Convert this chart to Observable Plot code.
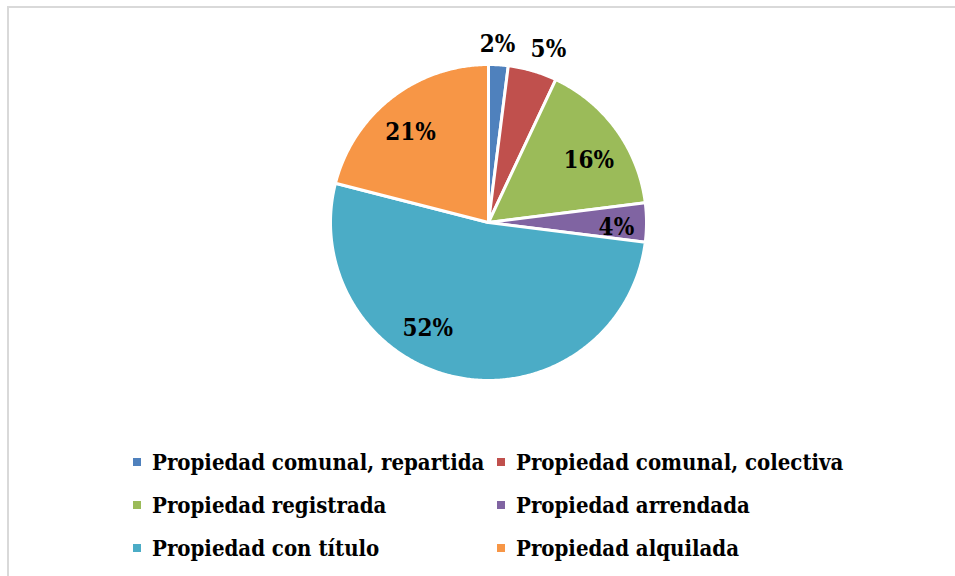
<!DOCTYPE html>
<html>
<head>
<meta charset="utf-8">
<script src="https://cdn.jsdelivr.net/npm/d3@7"></script>
<script src="https://cdn.jsdelivr.net/npm/@observablehq/plot@0.6"></script>
<style>
  html, body { margin: 0; padding: 0; background: #fff; }
  #wrap { position: relative; width: 955px; height: 576px; overflow: hidden; background: #fff; }
  #frame { position: absolute; left: 7px; top: 6px; width: 1000px; height: 700px;
           border-left: 2px solid #d9d9d9; border-top: 2px solid #d9d9d9; box-sizing: border-box; }
  #chart { position: absolute; left: 0; top: 0; }
  #legend { position: absolute; left: 0; top: 440px; width: 955px;
            font-family: "DejaVu Serif Condensed", "DejaVu Serif", serif; font-weight: bold;
            font-size: 22px; color: #000; }
  .item { position: absolute; height: 43px; display: flex; align-items: center; white-space: nowrap; }
  .sw { width: 8px; height: 8px; margin-right: 11px; flex: none; }
</style>
</head>
<body>
<div id="wrap">
  <div id="frame"></div>
  <div id="chart"></div>
  <div id="legend"></div>
</div>
<script>
// ---- data ----
const categories = [
  "Propiedad comunal, repartida",
  "Propiedad comunal, colectiva",
  "Propiedad registrada",
  "Propiedad arrendada",
  "Propiedad con título",
  "Propiedad alquilada"
];
const values = [2, 5, 16, 4, 52, 21];
const labels = ["2%", "5%", "16%", "4%", "52%", "21%"];
const colors = ["#4F81BD", "#C0504D", "#9BBB59", "#8064A2", "#4BACC6", "#F79646"];

// ---- layout (label placement relative to the slice middle) ----
const labelLayout = [
  {r: 1.127, da: -0.7},
  {r: 1.158, da: 2.9},
  {r: 0.747, da: 4.2},
  {r: 0.81,  da: 2.2},
  {r: 0.772, da: 19.1},
  {r: 0.753, da: -3.1}
];

const total = d3.sum(values);
let acc = 0;
const slices = values.map((v, i) => {
  const a0 = acc / total * 2 * Math.PI;
  acc += v;
  const a1 = acc / total * 2 * Math.PI;
  return {cat: categories[i], label: labels[i], a0, a1};
});

const pts = slices.flatMap(s => {
  const n = Math.max(2, Math.ceil((s.a1 - s.a0) / (Math.PI / 360)));
  const arr = [{cat: s.cat, x: 0, y: 0}];
  for (let k = 0; k <= n; k++) {
    const a = s.a0 + (s.a1 - s.a0) * k / n;
    arr.push({cat: s.cat, x: Math.sin(a), y: Math.cos(a)});
  }
  arr.push({cat: s.cat, x: 0, y: 0});
  return arr;
});

const labelPts = slices.map((s, i) => {
  const a = (s.a0 + s.a1) / 2 + labelLayout[i].da * Math.PI / 180;
  const r = labelLayout[i].r;
  return {label: s.label, x: r * Math.sin(a), y: r * Math.cos(a)};
});

const chart = Plot.plot({
  width: 955,
  height: 430,
  marginLeft: 330,
  marginRight: 309,
  marginTop: 64,
  marginBottom: 50,
  style: {background: "transparent"},
  x: {domain: [-1, 1], axis: null},
  y: {domain: [-1, 1], axis: null},
  color: {domain: categories, range: colors},
  marks: [
    Plot.line(pts, {x: "x", y: "y", z: "cat", fill: "cat", stroke: "white",
                    strokeWidth: 3, strokeLinejoin: "round"}),
    Plot.text(labelPts, {x: "x", y: "y", text: "label", fill: "#000",
                         fontSize: 24, fontWeight: "bold",
                         fontFamily: "'DejaVu Serif Condensed', 'DejaVu Serif', serif"})
  ]
});
document.getElementById("chart").appendChild(chart);

// ---- legend (HTML below the plot) ----
const legend = document.getElementById("legend");
const colX = [133, 497];
categories.forEach((c, i) => {
  const item = document.createElement("div");
  item.className = "item";
  item.style.left = colX[i % 2] + "px";
  item.style.top = (Math.floor(i / 2) * 43) + "px";
  const sw = document.createElement("span");
  sw.className = "sw";
  sw.style.background = colors[i];
  const tx = document.createElement("span");
  tx.textContent = c;
  item.appendChild(sw);
  item.appendChild(tx);
  legend.appendChild(item);
});
</script>
</body>
</html>
